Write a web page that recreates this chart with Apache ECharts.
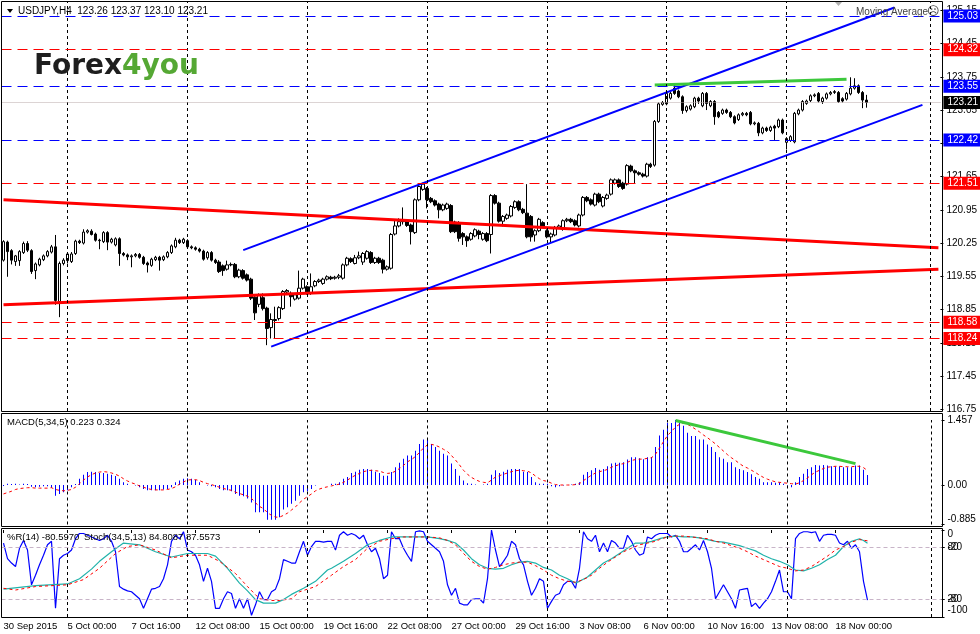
<!DOCTYPE html>
<html>
<head>
<meta charset="utf-8">
<title>USDJPY,H4</title>
<script src="https://cdn.jsdelivr.net/npm/echarts@6.0.0/dist/echarts.min.js"></script>
<style>
  html, body { margin: 0; padding: 0; background: #fff; }
  #chart { width: 980px; height: 634px; }
</style>
</head>
<body>
<div id="chart"></div>
<script>
// H4 bars from 30 Sep 2015 08:00 to 19 Nov 2015 08:00, plus empty room on the right
var slotCount = 235;
var labelStep = 16;
var xLabels = ['30 Sep 2015', '5 Oct 00:00', '7 Oct 16:00', '12 Oct 08:00', '15 Oct 00:00', '19 Oct 16:00',
  '22 Oct 08:00', '27 Oct 00:00', '29 Oct 16:00', '3 Nov 08:00', '6 Nov 00:00', '10 Nov 16:00',
  '13 Nov 08:00', '18 Nov 00:00'];

var opens = [
  119.89,120.27,120.09,119.86,119.88,120.05,120.24,120.09,119.67,119.79,
  119.90,119.98,120.06,120.17,119.02,119.82,119.88,119.86,120.03,120.29,
  120.25,120.48,120.50,120.44,120.31,120.28,120.47,120.27,120.21,120.34,
  120.03,120.00,119.96,119.98,120.01,119.95,119.83,119.78,119.90,119.95,
  119.90,119.96,120.05,120.17,120.31,120.26,120.30,120.17,120.15,120.12,
  120.08,119.94,120.05,119.89,119.85,119.77,119.70,119.79,119.80,119.54,
  119.67,119.58,119.49,119.11,118.96,119.10,118.88,118.47,118.64,118.66,
  118.87,119.22,119.19,119.07,119.09,119.30,119.33,119.19,119.35,119.44,
  119.40,119.49,119.53,119.51,119.53,119.51,119.79,119.92,119.82,119.94,
  119.85,119.93,120.05,119.84,119.93,119.89,119.70,119.72,120.44,120.61,
  120.70,120.72,120.63,120.47,121.16,121.38,121.40,121.19,121.14,121.07,
  120.95,120.98,121.04,120.69,120.68,120.45,120.38,120.33,120.40,120.50,
  120.33,120.45,120.43,121.25,121.09,120.71,120.77,120.82,121.00,121.12,
  120.96,120.88,120.81,120.42,120.51,120.68,120.51,120.38,120.42,120.58,
  120.54,120.72,120.75,120.72,120.61,120.84,121.21,121.16,121.05,121.28,
  121.03,121.19,121.28,121.51,121.58,121.51,121.49,121.87,121.77,121.73,
  121.70,121.66,121.91,121.89,122.81,123.17,123.18,123.30,123.51,123.45,
  123.33,123.04,123.07,123.12,123.30,123.14,123.40,123.14,123.23,123.00,
  122.98,123.05,123.00,122.91,122.85,122.95,122.98,123.00,122.76,122.77,
  122.57,122.67,122.62,122.71,122.70,122.84,122.37,122.41,122.38,122.97,
  123.05,123.19,123.25,123.35,123.40,123.23,123.30,123.39,123.42,123.42,
  123.29,123.28,123.39,123.51,123.56,123.42,123.26
];
var highs = [
  120.31,120.30,120.12,120.00,120.10,120.28,120.29,120.12,119.84,119.94,
  120.01,120.10,120.21,120.42,119.86,119.93,120.05,120.06,120.32,120.32,
  120.54,120.54,120.54,120.47,120.34,120.50,120.50,120.36,120.37,120.37,
  120.06,120.03,120.01,120.04,120.04,119.98,119.86,119.94,119.98,119.98,
  119.99,120.08,120.22,120.36,120.34,120.36,120.33,120.20,120.18,120.15,
  120.11,120.08,120.08,119.92,119.89,119.80,119.88,119.84,119.83,119.71,
  119.70,119.61,119.52,119.13,119.19,119.19,118.91,118.77,118.91,118.92,
  119.26,119.28,119.23,119.19,119.67,119.52,119.36,119.61,119.47,119.50,
  119.52,119.57,119.56,119.56,119.60,119.82,119.96,119.95,120.00,120.07,
  120.06,120.10,120.08,119.96,119.96,119.92,119.78,120.46,120.75,120.77,
  121.00,120.75,120.66,121.19,121.47,121.52,121.43,121.22,121.17,121.10,
  121.08,121.10,121.07,120.72,120.71,120.48,120.41,120.48,120.56,120.53,
  120.48,120.48,121.28,121.28,121.12,120.84,120.87,121.05,121.15,121.15,
  120.99,121.49,120.84,120.54,120.78,120.71,120.54,120.47,120.61,120.64,
  120.75,120.78,120.78,120.75,120.87,121.24,121.24,121.19,121.31,121.31,
  121.24,121.29,121.61,121.61,121.61,121.54,121.91,121.90,121.80,121.76,
  121.73,121.94,121.94,122.84,123.21,123.24,123.43,123.43,123.59,123.48,
  123.36,123.15,123.17,123.33,123.33,123.43,123.43,123.26,123.26,123.03,
  123.08,123.08,123.03,122.94,122.98,123.01,123.01,123.03,122.81,122.80,
  122.70,122.70,122.72,122.74,122.87,122.87,122.48,122.52,123.01,123.08,
  123.26,123.27,123.38,123.40,123.43,123.33,123.42,123.45,123.47,123.45,
  123.32,123.43,123.74,123.72,123.59,123.45,123.37
];
var lows = [
  119.86,119.54,119.80,119.77,119.77,120.02,120.06,119.60,119.49,119.76,
  119.87,119.95,120.03,118.95,118.69,119.78,119.82,119.83,120.00,120.23,
  120.22,120.45,120.41,120.28,120.12,120.25,120.10,120.24,120.18,119.77,
  119.97,119.89,119.74,119.95,119.92,119.79,119.63,119.75,119.87,119.67,
  119.87,119.93,120.02,120.14,120.23,120.23,120.14,120.12,120.09,120.05,
  119.88,119.90,119.86,119.81,119.62,119.56,119.67,119.76,119.51,119.51,
  119.48,119.44,119.05,118.63,118.90,118.83,118.10,118.24,118.24,118.62,
  118.84,119.19,118.91,119.04,119.06,119.27,119.16,119.16,119.32,119.41,
  119.37,119.46,119.47,119.48,119.49,119.48,119.76,119.83,119.80,119.91,
  119.79,119.90,119.81,119.81,119.81,119.61,119.67,119.69,120.41,120.58,
  120.64,120.59,120.22,120.44,121.13,121.35,120.98,121.09,121.02,120.77,
  120.92,120.95,120.46,120.46,120.28,120.21,120.17,120.30,120.37,120.33,
  120.30,120.27,120.03,121.06,120.68,120.60,120.74,120.79,120.97,120.92,
  120.86,120.35,120.28,120.28,120.48,120.57,120.35,120.26,120.39,120.55,
  120.51,120.69,120.67,120.60,120.58,120.81,121.11,121.04,121.02,121.09,
  121.00,121.16,121.25,121.48,121.41,121.37,121.46,121.74,121.51,121.67,
  121.63,121.63,121.83,121.86,122.78,123.14,123.15,123.27,123.37,123.30,
  122.97,123.00,123.04,123.09,123.18,123.11,123.05,123.11,122.74,122.88,
  122.95,122.97,122.88,122.75,122.82,122.92,122.92,122.73,122.73,122.50,
  122.54,122.59,122.59,122.42,122.67,122.54,122.22,122.38,122.35,122.94,
  123.02,123.16,123.22,123.32,123.21,123.18,123.27,123.36,123.39,123.20,
  123.21,123.25,123.36,123.48,123.39,123.09,123.10
];
var closes = [
  120.28,120.07,119.89,119.98,120.07,120.24,120.10,119.65,119.81,119.91,
  119.98,120.07,120.17,119.04,119.82,119.89,120.02,120.02,120.29,120.26,
  120.48,120.51,120.43,120.31,120.30,120.47,120.27,120.33,120.34,120.03,
  120.00,119.96,119.98,120.01,119.95,119.82,119.79,119.91,119.95,119.89,
  119.96,120.05,120.19,120.31,120.26,120.33,120.17,120.15,120.12,120.08,
  119.91,120.05,119.89,119.84,119.65,119.67,119.79,119.80,119.54,119.68,
  119.51,119.47,119.09,118.78,119.16,118.87,118.45,118.64,118.62,118.89,
  119.23,119.25,119.12,119.16,119.30,119.49,119.19,119.33,119.44,119.47,
  119.49,119.54,119.50,119.53,119.56,119.79,119.93,119.86,119.94,119.98,
  120.03,120.07,119.84,119.93,119.84,119.70,119.75,120.43,120.61,120.70,
  120.72,120.62,120.49,121.16,121.44,121.49,121.16,121.12,121.05,120.95,
  121.05,121.07,120.49,120.49,120.35,120.38,120.30,120.45,120.53,120.43,
  120.45,120.30,121.25,121.09,120.71,120.81,120.84,121.02,121.12,120.95,
  120.89,120.38,120.38,120.51,120.75,120.60,120.38,120.44,120.58,120.61,
  120.72,120.75,120.70,120.63,120.84,121.21,121.14,121.07,121.28,121.12,
  121.21,121.26,121.58,121.58,121.44,121.40,121.88,121.77,121.73,121.70,
  121.66,121.91,121.86,122.81,123.18,123.21,123.40,123.40,123.40,123.33,
  123.04,123.12,123.14,123.30,123.24,123.40,123.19,123.23,122.91,122.91,
  123.05,123.00,122.91,122.78,122.95,122.98,122.95,122.76,122.78,122.57,
  122.67,122.62,122.69,122.67,122.84,122.57,122.45,122.49,122.98,123.05,
  123.23,123.24,123.35,123.37,123.24,123.30,123.39,123.42,123.44,123.23,
  123.24,123.40,123.51,123.56,123.42,123.26,123.21
];

var priceTicks = [125.15, 124.45, 123.75, 123.05, 122.35, 121.65, 120.95, 120.25, 119.55, 118.85, 118.15, 117.45, 116.75];
var levelPrices = [125.03, 124.32, 123.55, 122.42, 121.51, 118.58, 118.24];
var levelColors = ['#0000ff', '#ff0000', '#0000ff', '#0000ff', '#ff0000', '#ff0000', '#ff0000'];
var bidPrice = 123.21;
var weekLines = [16, 46, 76, 106, 136, 166, 196, 232];

// hand drawn lines: [bar index, price]
var channelUpper = [[60, 120.10], [223, 125.21]];
var channelLower = [[67, 118.07], [230, 123.16]];
var redUpper = [[0, 121.16], [234, 120.15]];
var redLower = [[0, 118.95], [234, 119.70]];
var greenTop = [[163, 123.58], [211, 123.70]];

// MACD(5,34,5)
var macdTicks = [1.457, 0, -0.885];
var macdHist = [
  -0.02,0.03,0.02,0.03,0.01,0.03,0.02,-0.04,-0.05,-0.04,
  -0.03,-0.03,-0.06,-0.24,-0.20,-0.16,-0.12,-0.05,0.02,0.14,
  0.23,0.29,0.30,0.29,0.27,0.27,0.25,0.23,0.20,0.14,
  0.06,0.03,0.00,-0.01,-0.05,-0.09,-0.12,-0.12,-0.12,-0.12,
  -0.10,-0.09,-0.05,0.06,0.10,0.14,0.15,0.14,0.12,0.06,
  0.00,-0.01,-0.03,-0.05,-0.09,-0.12,-0.12,-0.14,-0.20,-0.24,
  -0.25,-0.30,-0.39,-0.61,-0.61,-0.61,-0.78,-0.78,-0.78,-0.72,
  -0.55,-0.50,-0.42,-0.35,-0.24,-0.16,-0.14,-0.09,-0.01,0.00,
  0.00,0.00,0.03,0.03,0.06,0.14,0.18,0.27,0.30,0.34,
  0.36,0.36,0.34,0.30,0.27,0.21,0.21,0.29,0.40,0.50,
  0.59,0.66,0.66,0.77,0.92,1.02,1.02,0.92,0.85,0.77,
  0.70,0.66,0.48,0.36,0.21,0.10,0.04,0.03,0.01,0.00,
  0.01,0.03,0.23,0.33,0.27,0.30,0.34,0.36,0.36,0.36,
  0.30,0.29,0.18,0.06,0.03,0.03,0.03,-0.03,-0.05,-0.03,
  -0.01,0.00,0.01,0.03,0.06,0.23,0.29,0.33,0.38,0.34,
  0.36,0.42,0.48,0.50,0.50,0.51,0.57,0.62,0.62,0.60,
  0.58,0.62,0.63,0.85,1.11,1.24,1.39,1.39,1.457,1.39,
  1.33,1.17,1.10,1.10,1.02,1.02,0.91,0.85,0.74,0.62,
  0.59,0.51,0.51,0.40,0.36,0.33,0.29,0.24,0.18,0.14,
  0.06,0.06,0.06,0.05,0.06,0.03,-0.01,-0.05,0.06,0.18,
  0.25,0.36,0.40,0.45,0.44,0.45,0.44,0.42,0.42,0.42,
  0.40,0.40,0.40,0.44,0.44,0.34,0.223
];
var macdSignal = [
  -0.20,-0.17,-0.14,-0.10,-0.08,-0.07,-0.06,-0.06,-0.07,-0.07,
  -0.07,-0.07,-0.06,-0.10,-0.12,-0.13,-0.12,-0.10,-0.05,0.03,
  0.11,0.18,0.23,0.27,0.29,0.30,0.29,0.27,0.24,0.20,
  0.14,0.09,0.05,0.02,-0.02,-0.05,-0.08,-0.10,-0.11,-0.11,
  -0.11,-0.10,-0.08,-0.04,0.02,0.07,0.11,0.12,0.12,0.10,
  0.06,0.03,0.01,-0.02,-0.05,-0.08,-0.10,-0.12,-0.16,-0.19,
  -0.22,-0.25,-0.30,-0.40,-0.48,-0.53,-0.62,-0.68,-0.72,-0.72,
  -0.68,-0.63,-0.56,-0.49,-0.40,-0.32,-0.26,-0.20,-0.13,-0.09,
  -0.06,-0.04,-0.02,0.00,0.02,0.06,0.11,0.17,0.22,0.26,
  0.30,0.32,0.33,0.32,0.31,0.28,0.26,0.27,0.31,0.37,
  0.44,0.52,0.57,0.64,0.73,0.83,0.90,0.91,0.89,0.85,
  0.80,0.75,0.66,0.56,0.45,0.33,0.24,0.17,0.12,0.08,
  0.06,0.05,0.11,0.18,0.21,0.24,0.27,0.30,0.32,0.33,
  0.32,0.31,0.27,0.20,0.14,0.10,0.08,0.04,0.01,0.00,
  0.00,0.00,0.00,0.01,0.03,0.10,0.16,0.22,0.27,0.30,
  0.32,0.35,0.40,0.43,0.46,0.48,0.51,0.55,0.57,0.58,
  0.58,0.60,0.61,0.69,0.83,0.97,1.11,1.20,1.30,1.36,
  1.39,1.36,1.31,1.25,1.19,1.12,1.06,0.99,0.92,0.84,
  0.76,0.68,0.61,0.55,0.48,0.42,0.38,0.33,0.28,0.22,
  0.17,0.13,0.10,0.07,0.06,0.05,0.04,0.03,0.02,0.05,
  0.10,0.16,0.23,0.29,0.33,0.37,0.40,0.41,0.42,0.42,
  0.41,0.41,0.41,0.42,0.42,0.39,0.324
];
var macdGreen = [[168, 1.446], [213, 0.48]];

// Williams %R(14) and Stochastic(34,5,13)
var wprTicks = [0, -20, -80, -100];
var stochTicks = [80, 20];
var stochLevels = [80, 20];
var wprValues = [
  -15,-33,-38,-42,-21,-12,-23,-63,-52,-40,
  -29,-17,-13,-90,-33,-29,-27,-23,-10,-4,
  -4,-6,-8,-10,-12,-10,-6,-13,-25,-65,
  -68,-70,-71,-75,-79,-90,-79,-68,-67,-65,
  -56,-40,-13,-6,-10,-2,-23,-25,-29,-40,
  -59,-44,-59,-90,-90,-79,-71,-73,-90,-79,
  -90,-79,-98,-86,-71,-80,-80,-71,-68,-56,
  -34,-36,-38,-38,-25,-13,-29,-19,-13,-13,
  -14,-13,-13,-23,-6,-2,-6,-4,-6,-10,
  -6,-17,-25,-21,-33,-56,-52,-2,-10,-10,
  -21,-29,-36,-2,-1,-2,-13,-17,-21,-25,
  -36,-63,-75,-67,-84,-86,-86,-80,-79,-79,
  -84,-56,0,-23,-42,-36,-29,-13,-17,-33,
  -40,-59,-75,-67,-56,-59,-90,-82,-75,-73,
  -63,-59,-59,-67,-44,-2,-10,-13,-6,-25,
  -15,-25,-12,-15,-21,-21,-6,-13,-23,-29,
  -27,-8,-10,-6,-4,-4,-4,-8,-6,-13,
  -25,-25,-21,-17,-23,-12,-25,-44,-79,-71,
  -63,-71,-79,-90,-69,-68,-67,-88,-84,-90,
  -84,-79,-71,-59,-46,-71,-71,-79,-10,-4,
  -2,-2,-3,-2,-13,-6,-5,-5,-6,-15,
  -17,-13,-21,-17,-25,-59,-80.597
];
var stochMain = [[0,32],[8,36],[16,38],[19,44],[22,55],[24,64],[27,75],[30,85],[34,83],[38,75],[42,69],
  [46,73],[51,73],[53,70],[56,56],[59,39],[61,30],[63,20],[65,16],[68,16],[70,20],[72,26],[75,33],[78,41],
  [81,54],[82,56],[85,64],[88,73],[91,83],[94,88],[97,92],[100,92],[103,92],[106,92],[109,90],[111,88],
  [113,85],[115,77],[117,67],[119,60],[121,56],[123,55],[125,56],[127,60],[129,63],[131,64],[133,62],
  [135,57],[137,54],[139,48],[141,44],[143,39],[144,41],[146,46],[148,54],[150,62],[152,67],[154,73],
  [156,79],[158,85],[160,85],[162,87],[164,90],[166,92],[168,93],[170,92],[172,92],[174,91],[176,89],
  [178,87],[180,86],[182,84],[184,82],[186,79],[188,76],[190,71],[192,67],[194,64],[196,60],[198,54],
  [200,53],[202,56],[204,60],[206,66],[208,71],[210,81],[212,87],[214,90],[215,88],[216,84.81]];
var stochSignal = [[0,33],[3,31],[8,35],[16,37],[20,43],[24,56],[28,73],[31,81],[34,83],[38,77],[42,68],
  [46,71],[51,71],[54,64],[58,50],[61,35],[64,21],[67,19],[69,19],[72,21],[74,29],[78,35],[82,48],[85,58],
  [88,66],[91,79],[94,87],[97,90],[100,92],[103,92],[106,92],[109,91],[111,88],[113,83],[115,73],[117,64],
  [119,58],[121,55],[123,57],[125,60],[127,62],[129,63],[131,63],[133,59],[135,54],[137,48],[139,44],
  [141,41],[143,40],[145,43],[147,48],[149,56],[151,63],[153,69],[155,75],[157,79],[159,83],[161,85],
  [163,87],[164,89],[166,92],[168,93],[170,93],[172,92],[174,91],[176,90],[178,87],[180,85],[182,82],
  [184,79],[186,75],[188,70],[190,66],[192,62],[194,58],[196,56],[198,53],[200,54],[202,58],[204,64],
  [206,70],[208,77],[210,81],[212,86],[214,89],[216,87.56]];

// ---- chart ----
var font = "'Liberation Sans', Arial, sans-serif";
var fs = 9.5;

var categories = [];
for (var i = 0; i < slotCount; i++) categories.push(String(i));

var candleData = opens.map(function (o, i) { return [o, closes[i], lows[i], highs[i]]; });

function isLabelled(index) {
  return index % labelStep === 0 && index / labelStep < xLabels.length;
}

function weekMarks() {
  return weekLines.map(function (k) {
    return { xAxis: k, lineStyle: { color: '#000', type: [3, 3], width: 1 }, label: { show: false } };
  });
}

function tag(value, lineColor, lineType, bg) {
  return {
    yAxis: value,
    lineStyle: { color: lineColor, type: lineType, width: 1 },
    label: {
      show: true, position: 'end', distance: 3, formatter: value.toFixed(2),
      backgroundColor: bg, color: '#fff', padding: [2, 4, 1, 4],
      fontSize: 10, fontFamily: font
    }
  };
}

var priceMarks = weekMarks()
  .concat(levelPrices.map(function (p, i) { return tag(p, levelColors[i], [10, 6], levelColors[i]); }))
  .concat([tag(bidPrice, '#b8a8a8', [1, 1], '#000')]);

function hiddenX(gridIndex) {
  return { type: 'category', gridIndex: gridIndex, data: categories, boundaryGap: true, show: false };
}

function rightAxis(gridIndex, min, max, ticks, formatter, rich) {
  return {
    type: 'value', gridIndex: gridIndex, position: 'right', min: min, max: max,
    axisLine: { show: false },
    splitLine: { show: false },
    axisTick: { show: true, length: 3, customValues: ticks, lineStyle: { color: '#000' } },
    axisLabel: { customValues: ticks, color: '#000', fontSize: 10, fontFamily: font, margin: 6,
      formatter: formatter, rich: rich || {} }
  };
}

function trend(data, color, width, xi, yi) {
  return { type: 'line', xAxisIndex: xi || 0, yAxisIndex: yi || 0, data: data, symbol: 'none',
    silent: true, z: 4, lineStyle: { color: color, width: width } };
}

var chart = echarts.init(document.getElementById('chart'));

chart.setOption({
  animation: false,
  backgroundColor: '#fff',
  grid: [
    { left: 1.5, top: 2, width: 940, height: 409 },
    { left: 1.5, top: 420, width: 940, height: 104.5 },
    { left: 1.5, top: 530, width: 940, height: 87 }
  ],
  xAxis: [
    hiddenX(0),
    hiddenX(1),
    {
      type: 'category', gridIndex: 2, data: categories, boundaryGap: true,
      axisLine: { show: false },
      axisTick: { show: true, alignWithLabel: true, interval: isLabelled, length: 3, lineStyle: { color: '#000' } },
      axisLabel: {
        interval: isLabelled, align: 'left', margin: 4, color: '#000', fontSize: fs, fontFamily: font,
        hideOverlap: false,
        formatter: function (v) { return xLabels[Number(v) / labelStep] || ''; }
      },
      splitLine: { show: false }
    }
  ],
  yAxis: [
    rightAxis(0, 116.714, 125.325, priceTicks, function (v) { return v.toFixed(2); }),
    rightAxis(1, -0.885, 1.457, macdTicks, function (v) {
      if (v === 0) return '0.00';
      if (v < 0) return '{up|' + v + '}';
      return String(v);
    }, { up: { padding: [0, 0, 11, 0] } }),
    rightAxis(2, -100, 0, wprTicks, function (v) {
      if (v === 0) return '{dn|0}';
      if (v === -100) return '{up|-100}';
      return String(v);
    }, { dn: { padding: [9, 0, 0, 0] }, up: { padding: [0, 0, 14, 0] } }),
    rightAxis(2, 0, 100, stochTicks, function (v) { return String(v); })
  ],
  series: [
    {
      type: 'candlestick', xAxisIndex: 0, yAxisIndex: 0, data: candleData, barWidth: 3, silent: true,
      itemStyle: { color: '#fff', color0: '#000', borderColor: '#000', borderColor0: '#000', borderWidth: 1 },
      markLine: { symbol: 'none', silent: true, animation: false, data: priceMarks }
    },
    trend(redUpper, '#ff0000', 3),
    trend(redLower, '#ff0000', 3),
    trend(channelUpper, '#0000ff', 2),
    trend(channelLower, '#0000ff', 2),
    trend(greenTop, '#3cc83c', 3),
    {
      type: 'bar', xAxisIndex: 1, yAxisIndex: 1, data: macdHist, barWidth: 1, silent: true,
      itemStyle: { color: '#0000ff' },
      markLine: { symbol: 'none', silent: true, animation: false, data: weekMarks() }
    },
    {
      type: 'line', xAxisIndex: 1, yAxisIndex: 1, data: macdSignal, symbol: 'none', silent: true,
      lineStyle: { color: '#ff0000', width: 1, type: [3, 3] }
    },
    trend(macdGreen, '#3cc83c', 3, 1, 1),
    {
      type: 'line', xAxisIndex: 2, yAxisIndex: 2, data: wprValues, symbol: 'none', silent: true,
      lineStyle: { color: '#0000ff', width: 1.2 },
      markLine: { symbol: 'none', silent: true, animation: false, data: weekMarks() }
    },
    {
      type: 'line', xAxisIndex: 2, yAxisIndex: 3, data: stochMain, symbol: 'none', silent: true,
      lineStyle: { color: '#20b2aa', width: 1.2 },
      markLine: {
        symbol: 'none', silent: true, animation: false,
        data: stochLevels.map(function (v) {
          return { yAxis: v, lineStyle: { color: '#c8b4c8', type: [4, 3], width: 1 }, label: { show: false } };
        })
      }
    },
    {
      type: 'line', xAxisIndex: 2, yAxisIndex: 3, data: stochSignal, symbol: 'none', silent: true,
      lineStyle: { color: '#ff0000', width: 1, type: [3, 3] }
    }
  ],
  graphic: [
    // window frames
    { type: 'rect', silent: true, z: 100, shape: { x: 1.5, y: 1.5, width: 941, height: 410 },
      style: { fill: 'none', stroke: '#000', lineWidth: 1 } },
    { type: 'rect', silent: true, z: 100, shape: { x: 1.5, y: 413.5, width: 941, height: 113 },
      style: { fill: 'none', stroke: '#000', lineWidth: 1 } },
    { type: 'rect', silent: true, z: 100, shape: { x: 1.5, y: 528.5, width: 941, height: 89 },
      style: { fill: 'none', stroke: '#000', lineWidth: 1 } },
    // header
    { type: 'polygon', silent: true, z: 100, shape: { points: [[7, 9], [13, 9], [10, 13]] }, style: { fill: '#000' } },
    { type: 'text', silent: true, z: 100, x: 18, y: 11,
      style: { text: 'USDJPY,H4  123.26 123.37 123.10 123.21', fill: '#000', font: '10px ' + font, verticalAlign: 'middle' } },
    { type: 'polygon', silent: true, z: 100, shape: { points: [[835, 2], [842, 2], [838.5, 6]] }, style: { fill: '#b0b0b0' } },
    { type: 'text', silent: true, z: 100, x: 856, y: 12,
      style: { text: 'Moving Average', fill: '#444', font: '10px ' + font, verticalAlign: 'middle' } },
    { type: 'text', silent: true, z: 100, x: 927, y: 12,
      style: { text: '\u2639', fill: '#444', font: '12px "DejaVu Sans", sans-serif', verticalAlign: 'middle' } },
    // logo
    { type: 'text', silent: true, z: 100, x: 34, y: 67,
      style: {
        text: '{a|Forex}{b|4you}', verticalAlign: 'middle',
        rich: {
          a: { fill: '#1e1e1e', font: 'bold 28px "DejaVu Sans", sans-serif' },
          b: { fill: '#55a834', font: 'bold 28px "DejaVu Sans", sans-serif' }
        }
      } },
    // indicator captions
    { type: 'text', silent: true, z: 100, x: 7, y: 422,
      style: { text: 'MACD(5,34,5) 0.223 0.324', fill: '#000', font: fs + 'px ' + font, verticalAlign: 'middle' } },
    { type: 'text', silent: true, z: 100, x: 7, y: 537,
      style: { text: '%R(14) -80.5970', fill: '#000', font: fs + 'px ' + font, verticalAlign: 'middle' } },
    { type: 'text', silent: true, z: 100, x: 84, y: 537,
      style: { text: 'Stoch(34,5,13) 84.8087 87.5573', fill: '#000', font: fs + 'px ' + font, verticalAlign: 'middle' } }
  ]
});
</script>
</body>
</html>
